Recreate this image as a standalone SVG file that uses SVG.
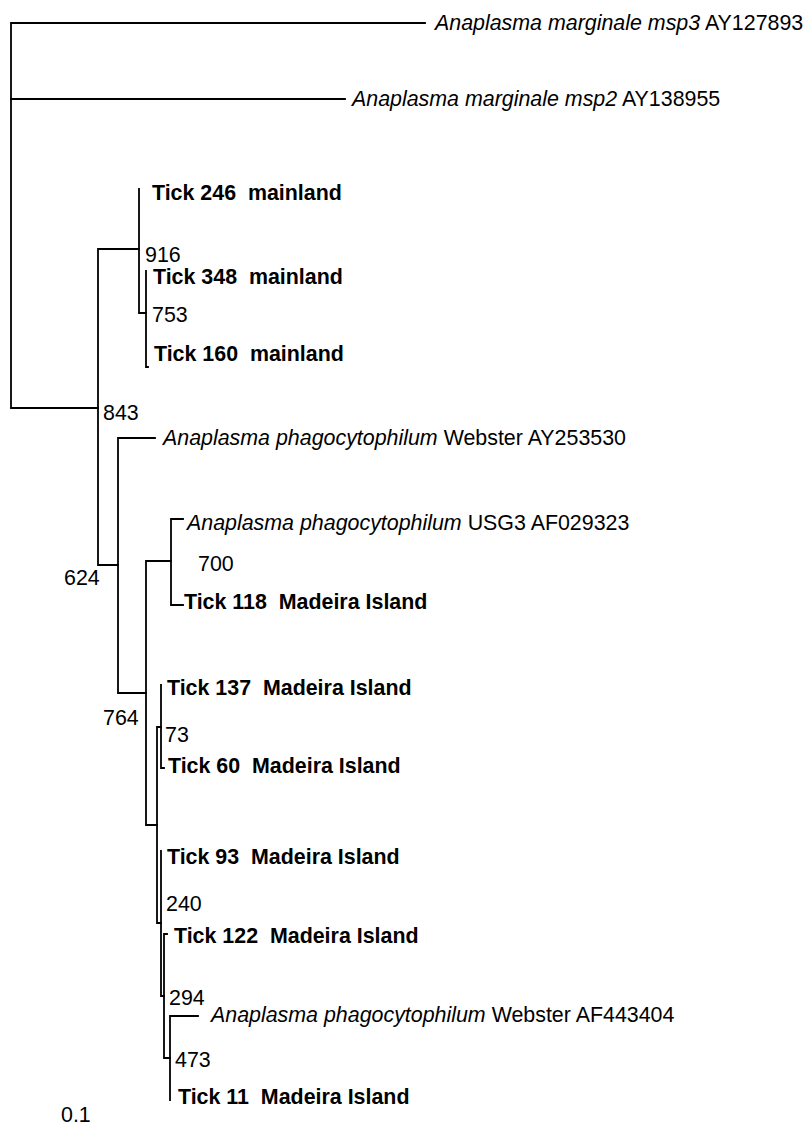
<svg xmlns="http://www.w3.org/2000/svg" width="807" height="1128" viewBox="0 0 807 1128">
<style>
text{font-family:"Liberation Sans",Arial,sans-serif;font-size:21.4px;fill:#000;white-space:pre}
.b{font-weight:bold}
.br{fill:none;stroke:#000;stroke-width:1.8;stroke-linecap:square}
</style>
<rect width="807" height="1128" fill="#fff"/>
<g id="connectors" class="br">
<path d="M425,23 H11 V408 H98"/>
<path d="M11,99 H345"/>
<path d="M139,249 H98 V565 H118"/>
<path d="M139,189 V313 H146"/>
<path d="M146,271 V367 H148"/>
<path d="M155,438 H118 V693 H146"/>
<path d="M171,561 H146 V825 H157"/>
<path d="M183,519 H171 V605 H183"/>
<path d="M161,685 V768 H164"/>
<path d="M161,727 H157 V923 H161"/>
<path d="M161,851 V996 H164"/>
<path d="M167,934 H164 V1058 H170"/>
<path d="M198,1016 H170 V1100"/>
</g>
<g id="msp3"><text x="435" y="30"><tspan font-style="italic">Anaplasma marginale msp3</tspan> AY127893</text></g>
<g id="msp2"><text x="352" y="106"><tspan font-style="italic">Anaplasma marginale msp2</tspan> AY138955</text></g>
<g id="tick246"><text class="b" x="152" y="200">Tick 246  mainland</text></g>
<g id="n916"><text x="145" y="262">916</text></g>
<g id="tick348"><text class="b" x="153" y="284">Tick 348  mainland</text></g>
<g id="n753"><text x="152" y="322">753</text></g>
<g id="tick160"><text class="b" x="154" y="361">Tick 160  mainland</text></g>
<g id="n843"><text x="103" y="420">843</text></g>
<g id="webster1"><text x="163" y="445"><tspan font-style="italic">Anaplasma phagocytophilum</tspan> Webster AY253530</text></g>
<g id="usg3"><text x="187" y="530"><tspan font-style="italic">Anaplasma phagocytophilum</tspan> USG3 AF029323</text></g>
<g id="n700"><text x="198" y="571">700</text></g>
<g id="n624"><text x="64" y="585">624</text></g>
<g id="tick118"><text class="b" x="184" y="609">Tick 118  Madeira Island</text></g>
<g id="tick137"><text class="b" x="167" y="695">Tick 137  Madeira Island</text></g>
<g id="n764"><text x="103" y="725">764</text></g>
<g id="n73"><text x="165" y="742">73</text></g>
<g id="tick60"><text class="b" x="168" y="773">Tick 60  Madeira Island</text></g>
<g id="tick93"><text class="b" x="167" y="864">Tick 93  Madeira Island</text></g>
<g id="n240"><text x="166" y="911">240</text></g>
<g id="tick122"><text class="b" x="174" y="943">Tick 122  Madeira Island</text></g>
<g id="n294"><text x="169" y="1005">294</text></g>
<g id="webster2"><text x="211" y="1022"><tspan font-style="italic">Anaplasma phagocytophilum</tspan> Webster AF443404</text></g>
<g id="n473"><text x="175" y="1067">473</text></g>
<g id="tick11"><text class="b" x="178" y="1104">Tick 11  Madeira Island</text></g>
<g id="scale"><text x="61" y="1122">0.1</text></g>
</svg>
